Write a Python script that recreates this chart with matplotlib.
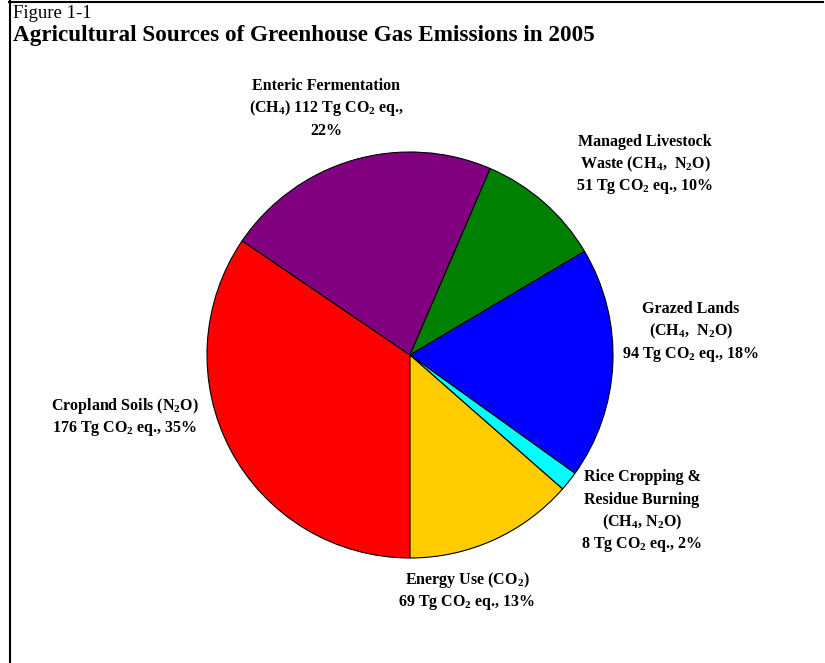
import matplotlib
matplotlib.use("Agg")
import matplotlib.pyplot as plt
from matplotlib.lines import Line2D

plt.rcParams["font.family"] = ["Liberation Serif", "DejaVu Serif"]
plt.rcParams["mathtext.fontset"] = "custom"
plt.rcParams["mathtext.rm"] = "Liberation Serif:bold"
plt.rcParams["mathtext.it"] = "Liberation Serif:bold"
plt.rcParams["mathtext.bf"] = "Liberation Serif:bold"

# order as drawn, clockwise from the bottom
sources = ["Cropland Soils", "Enteric Fermentation", "Managed Livestock Waste",
           "Grazed Lands", "Rice Cropping & Residue Burning", "Energy Use"]
emissions = [176, 112, 51, 94, 8, 69]  # Tg CO2 eq.
colors = ["#FF0000", "#800080", "#008000", "#0000FF", "#00FFFF", "#FFCC00"]

label_lines = [
    ["Cropland Soils (N$_2$O)", "176 Tg CO$_2$ eq., 35%"],
    ["Enteric Fermentation", "(CH$_4$) 112 Tg CO$_2$ eq.,", "22%"],
    ["Managed Livestock", "Waste (CH$_4$,  N$_2$O)", "51 Tg CO$_2$ eq., 10%"],
    ["Grazed Lands", "(CH$_4$,  N$_2$O)", "94 Tg CO$_2$ eq., 18%"],
    ["Rice Cropping &", "Residue Burning", "(CH$_4$, N$_2$O)", "8 Tg CO$_2$ eq., 2%"],
    ["Energy Use (CO$_2$)", "69 Tg CO$_2$ eq., 13%"],
]
# (centre x, first line y) in pixels from the top-left
label_pos = [(125, 406), (326, 86), (645, 142), (691, 309), (642, 477), (467, 580)]

W, H = 825, 663
fig = plt.figure(figsize=(W / 100, H / 100), dpi=100)
ax = fig.add_axes([0, 0, 1, 1])

ax.pie(emissions, colors=colors, startangle=270, counterclock=False,
       center=(410, H - 355), radius=203,
       wedgeprops={"edgecolor": "black", "linewidth": 0.8})
ax.set_xlim(0, W)
ax.set_ylim(0, H)
ax.set_aspect("equal")
ax.axis("off")

for lines, (x, y) in zip(label_lines, label_pos):
    for i, line in enumerate(lines):
        ax.text(x, H - (y + i * 22.5), line, ha="center", va="center",
                fontsize=11.5, fontweight="bold")

ax.text(13, H - 14, "Figure 1-1", ha="left", va="center", fontsize=13.5)
ax.text(13, H - 35, "Agricultural Sources of Greenhouse Gas Emissions in 2005",
        ha="left", va="center", fontsize=16.7, fontweight="bold")

# frame lines along the top and left edge
fig.add_artist(Line2D([9 / W, 823 / W], [1 - 1.5 / H, 1 - 1.5 / H],
                      color="black", linewidth=1.5))
fig.add_artist(Line2D([9.5 / W, 9.5 / W], [0, 1], color="black", linewidth=1.5))

fig.savefig("out.png", dpi=100)
